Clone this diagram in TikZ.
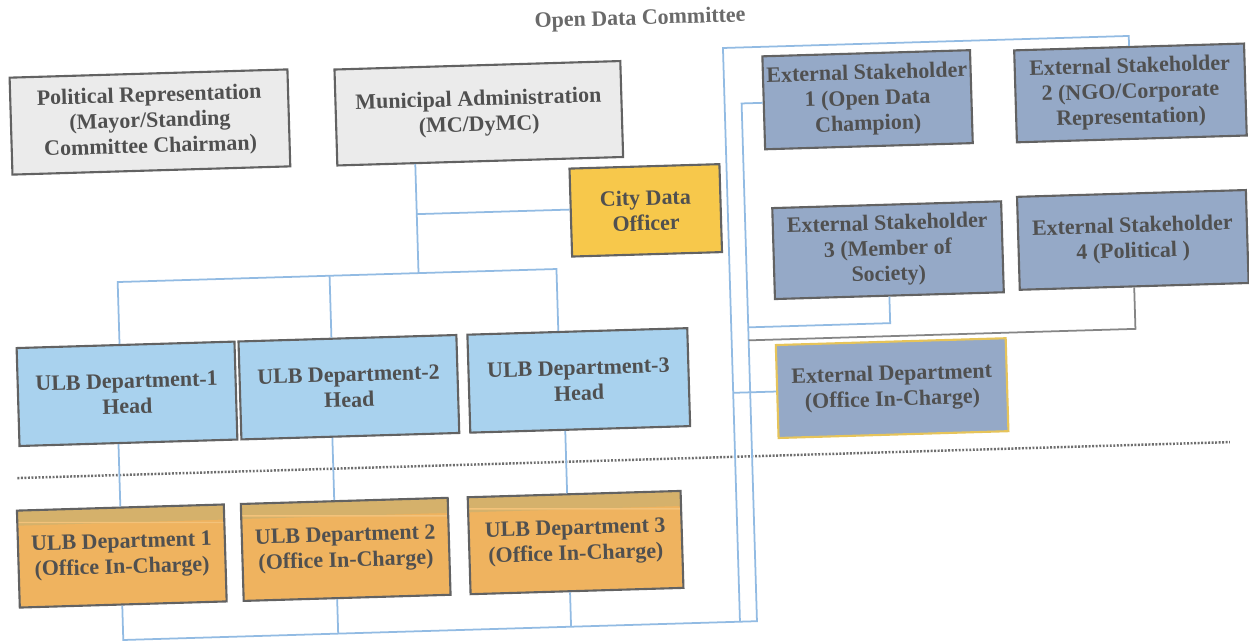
\documentclass[tikz,border=0pt]{standalone}
\usepackage{fontspec}
\setmainfont{Liberation Serif}
\definecolor{greyfill}{HTML}{EBEBEB}
\definecolor{boxline}{HTML}{626262}
\definecolor{txt}{HTML}{505050}
\definecolor{titlecol}{HTML}{6A6A6A}
\definecolor{cdofill}{HTML}{F7C84B}
\definecolor{headfill}{HTML}{A9D2EE}
\definecolor{orfill}{HTML}{EFB35F}
\definecolor{orband}{HTML}{D5B16B}
\definecolor{orline}{HTML}{F3C27A}
\definecolor{esfill}{HTML}{95A9C7}
\definecolor{exline}{HTML}{E6C45A}
\definecolor{conncol}{HTML}{92BBE3}
\definecolor{gconncol}{HTML}{858585}
\definecolor{dotcol}{HTML}{6E6E6E}
\tikzset{
  every node/.style={font=\bfseries\fontsize{12.5}{14.5}\selectfont, text=txt, align=center, inner sep=2pt},
  bx/.style={draw=boxline, line width=1.2pt, rectangle},
  greybox/.style={bx, fill=greyfill},
  cdobox/.style={bx, fill=cdofill},
  headbox/.style={bx, fill=headfill},
  orbox/.style={bx, fill=orfill, path picture={
      \fill[orband] (path picture bounding box.north west) rectangle ([yshift=-0.30cm]path picture bounding box.north east);
      \draw[orline, line width=0.8pt] ([yshift=-0.36cm]path picture bounding box.north west) -- ([yshift=-0.36cm]path picture bounding box.north east);}},
  esbox/.style={bx, fill=esfill},
  exbox/.style={draw=exline, line width=1.2pt, fill=esfill},
  conn/.style={draw=conncol, line width=1pt},
  gconn/.style={draw=gconncol, line width=1pt},
  dotline/.style={draw=dotcol, line width=1.4pt, dash pattern=on 1.1pt off 0.9pt},
}
\begin{document}
\begin{tikzpicture}[x=0.02cm, y=-0.02cm]
\useasboundingbox[fill=white] (0,0) rectangle (1249,640);
\begin{scope}[rotate around={1.7:(625,320)}, transform shape]
  % title
  \node[text=titlecol] (title) at (649,20) {Open Data Committee};
  % top row
  \node[greybox, minimum width=5.56cm, minimum height=1.94cm] (pol) at (156,108)
    {Political Representation\\(Mayor/Standing\\Committee Chairman)};
  \node[greybox, minimum width=5.72cm, minimum height=1.92cm] (ma) at (485,109)
    {Municipal Administration\\(MC/DyMC)};
  \node[cdobox, minimum width=3.0cm, minimum height=1.76cm] (cdo) at (649,211)
    {City Data\\Officer};
  % heads
  \node[headbox, minimum width=4.36cm, minimum height=1.96cm] (h1) at (125,379) {ULB Department-1\\Head};
  \node[headbox, minimum width=4.36cm, minimum height=1.96cm] (h2) at (347,379) {ULB Department-2\\Head};
  \node[headbox, minimum width=4.40cm, minimum height=1.96cm] (h3) at (577,379) {ULB Department-3\\Head};
  % dotted separator
  \coordinate (dl) at (13,460);
  \coordinate (dr) at (1226,460);
  \draw[dotline] (dl) -- (dr);
  % departments
  \node[orbox, minimum width=4.14cm, minimum height=1.94cm] (d1) at (115,541) {ULB Department 1\\(Office In-Charge)};
  \node[orbox, minimum width=4.14cm, minimum height=1.94cm] (d2) at (339,541) {ULB Department 2\\(Office In-Charge)};
  \node[orbox, minimum width=4.26cm, minimum height=1.94cm] (d3) at (569,541) {ULB Department 3\\(Office In-Charge)};
  % external stakeholders
  \node[esbox, minimum width=4.0cm, minimum height=1.86cm] (es1) at (874,107) {External Stakeholder\\1 (Open Data\\Champion)};
  \node[esbox, minimum width=4.6cm, minimum height=1.84cm] (es2) at (1137,108) {External Stakeholder\\2 (NGO/Corporate\\Representation)};
  \node[esbox, minimum width=4.58cm, minimum height=1.82cm] (es3) at (890,258) {External Stakeholder\\3 (Member of\\Society)};
  \node[esbox, minimum width=4.58cm, minimum height=1.86cm] (es4) at (1135,255) {External Stakeholder\\4 (Political )};
  \node[exbox, minimum width=4.6cm, minimum height=1.86cm] (exd) at (890,396) {External Department\\(Office In-Charge)};
  % junction coordinates
  \coordinate (jb) at (420,267);
  \coordinate (jc) at (420,208);
  \coordinate (bl) at (114,625);
  \coordinate (bo) at (731,625);
  \coordinate (bi) at (748,625);
  \coordinate (ot) at (731,51);
  % connectors: administration
  \draw[conn] (ma.south -| jb) -- (jb);
  \draw[conn] (jc) -- (cdo.west |- jc);
  \draw[conn] (h1.north -| 119,0) -- (119,267) -- (558,267) -- (h3.north -| 558,0);
  \draw[conn] (h2.north -| 331,0) -- (331,267);
  % heads to departments
  \draw[conn] (h1.south -| 115,0) -- (d1.north -| 115,0);
  \draw[conn] (h2.south -| 329,0) -- (d2.north -| 329,0);
  \draw[conn] (h3.south -| 562,0) -- (d3.north -| 562,0);
  % departments to bottom bus
  \draw[conn] (d1.south -| bl) -- (bl) -- (bi) |- (es1.west);
  \draw[conn] (d2.south -| 329,0) -- (329,625);
  \draw[conn] (d3.south -| 562,0) -- (562,625);
  % outer loop
  \draw[conn] (bo) -- (ot) -| (es2.north);
  \draw[conn] (es3.south) |- (748,331);
  \draw[gconn] (es4.south) |- (748,344);
  \draw[conn] (exd.west) -- (exd.west -| ot);
\end{scope}
\end{tikzpicture}
\end{document}
